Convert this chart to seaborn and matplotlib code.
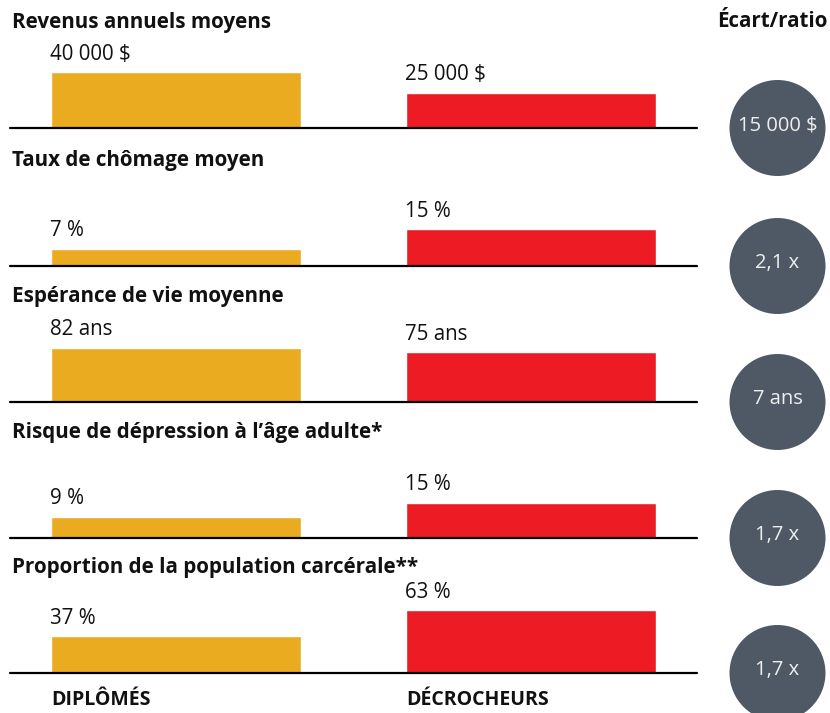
import matplotlib
matplotlib.use('Agg')
import matplotlib.pyplot as plt
import matplotlib.transforms as mtransforms
import seaborn as sns

# Data
groups = ['Diplômés', 'Décrocheurs']
group_labels = ['DIPLÔMÉS', 'DÉCROCHEURS']
titles = ['Revenus annuels moyens',
          'Taux de chômage moyen',
          'Espérance de vie moyenne',
          'Risque de dépression à l’âge adulte*',
          'Proportion de la population carcérale**']
diplomes = [40000, 7, 82, 9, 37]
decrocheurs = [25000, 15, 75, 15, 63]
diplomes_labels = ['40 000 $', '7 %', '82 ans', '9 %', '37 %']
decrocheurs_labels = ['25 000 $', '15 %', '75 ans', '15 %', '63 %']
ecarts = ['15 000 $', '2,1 x', '7 ans', '1,7 x', '1,7 x']
# top of each row's value scale (rows are scaled independently)
row_max = [50000, 28.4, 106, 30, 70]

sns.set_theme(style='white')
plt.rcParams['font.family'] = ['Open Sans', 'DejaVu Sans']

yellow = '#EBAB21'
red = '#ED1C24'
circle = '#4F5966'

W, H = 830, 713
fig = plt.figure(figsize=(W / 100, H / 100), dpi=100)


def rect(left, top, width, height):
    return [left / W, 1 - (top + height) / H, width / W, height / H]


bases = [128, 266, 402, 538, 673]
row_h = 70

for i, base in enumerate(bases):
    ax = fig.add_axes(rect(10, base - row_h, 687, row_h))
    sns.barplot(x=groups, y=[diplomes[i], decrocheurs[i]], hue=groups,
                palette=[yellow, red], width=0.704, legend=False,
                saturation=1, ax=ax)
    ax.set_xlim(-0.4676, 1.4676)
    ax.set_ylim(0, row_max[i])
    ax.axis('off')
    ax.axhline(0, color='black', lw=1.6, clip_on=False, zorder=5)
    labels = [diplomes_labels[i], decrocheurs_labels[i]]
    for patch, lab in zip(ax.patches, labels):
        ax.annotate(lab, (patch.get_x(), patch.get_height()),
                    xytext=(-0.5, 9), textcoords='offset points',
                    ha='left', va='baseline', fontsize=14.8, color='#111111')
    fig.text(12 / W, 1 - (base - 100) / H, titles[i], fontsize=14.9,
             fontweight='bold', va='baseline', ha='left', color='#111111')

    # circle with the gap / ratio
    cax = fig.add_axes(rect(729, base - 48, 97, 96))
    sns.scatterplot(x=[0], y=[0], s=(96 * 0.72) ** 2, color=circle,
                    edgecolor='none', ax=cax, clip_on=False)
    cax.set_xlim(-1, 1)
    cax.set_ylim(-1, 1)
    cax.axis('off')
    cax.text(0, 0.06, ecarts[i], ha='center', va='center', fontsize=14.5,
             color='#EEEEEE')

    if i == len(bases) - 1:
        trans = mtransforms.blended_transform_factory(ax.transData, fig.transFigure)
        for patch, lab in zip(ax.patches, group_labels):
            ax.text(patch.get_x(), 1 - 705 / H, lab, transform=trans,
                    fontsize=14, fontweight='bold', ha='left', va='baseline',
                    color='#111111')

fig.text(827 / W, 1 - 27 / H, 'Écart/ratio', fontsize=14.8, fontweight='bold',
         ha='right', va='baseline', color='#111111')

fig.savefig('out.png', dpi=100)
